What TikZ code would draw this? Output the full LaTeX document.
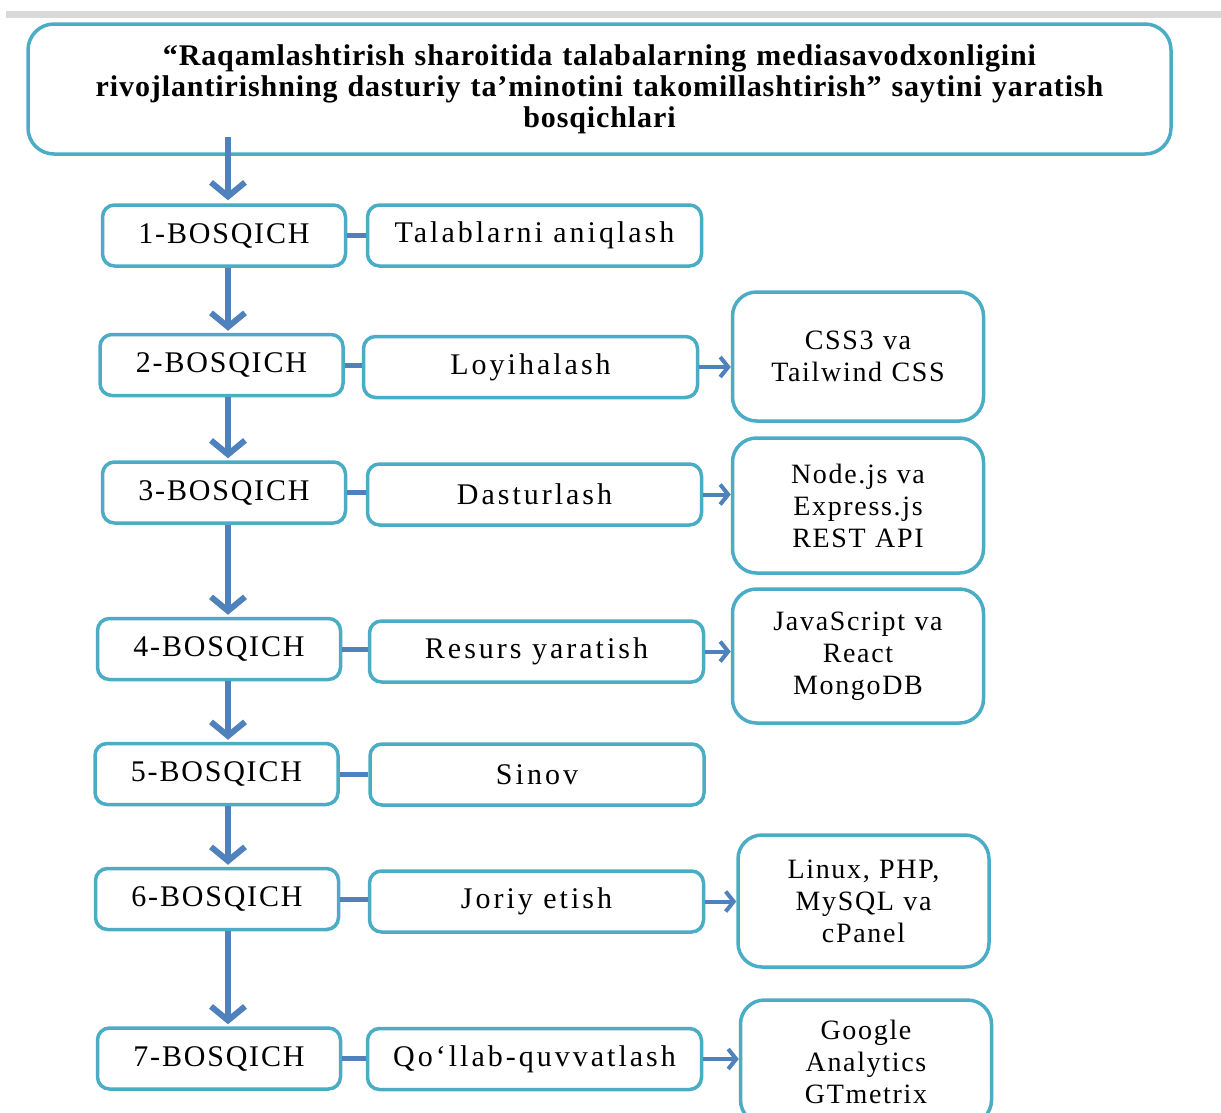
\documentclass[tikz,border=0pt]{standalone}
\usepackage{fontspec}
\setmainfont{Liberation Serif}
\usetikzlibrary{arrows.meta}
\definecolor{boxc}{RGB}{75,172,198}
\definecolor{arrc}{RGB}{79,129,189}
\newcommand{\fsz}[2]{\fontsize{#1}{#2}\selectfont}
\tikzset{
  basebox/.style={draw=boxc, line width=3.5pt, fill=white, inner sep=0pt, align=center},
  lbox/.style={basebox, rounded corners=12pt, minimum width=243pt, minimum height=61pt, font=\fsz{30}{34}\addfontfeature{LetterSpace=6}},
  mbox/.style={basebox, rounded corners=12pt, minimum width=334pt, minimum height=61pt, font=\fsz{30}{34}\addfontfeature{LetterSpace=10}},
  rbox/.style={basebox, rounded corners=24pt, minimum width=251pt, text width=240pt, font=\fsz{28}{32}\addfontfeature{LetterSpace=6}},
  tbox/.style={basebox, rounded corners=26pt, minimum width=1143pt, minimum height=130pt, text width=1130pt, font=\bfseries\fsz{30}{31}\addfontfeature{LetterSpace=3}},
  varrow/.style={draw=arrc, line width=6pt, -{Straight Barb[length=14pt,width=34pt]}},
  harrow/.style={draw=arrc, line width=4pt, -{Straight Barb[length=8pt,width=20pt]}},
  link/.style={draw=arrc, line width=5pt},
}
\begin{document}
\begin{tikzpicture}[x=1pt,y=-1pt]
\useasboundingbox (0,0) rectangle (1221,1112);
\fill[gray!30] (6,11) rectangle (1221,18);
\coordinate (ax) at (228,0);

\node[tbox] (title) at (599.5,89) {“Raqamlashtirish sharoitida talabalarning mediasavodxonligini\\ rivojlantirishning dasturiy ta’minotini takomillashtirish” saytini yaratish\\ bosqichlari};

\node[lbox] (l1) at (224,235.5) {1-BOSQICH};
\node[lbox] (l2) at (221.5,365) {2-BOSQICH};
\node[lbox] (l3) at (224,492.5) {3-BOSQICH};
\node[lbox] (l4) at (219,649) {4-BOSQICH};
\node[lbox] (l5) at (216.5,774) {5-BOSQICH};
\node[lbox] (l6) at (217,899) {6-BOSQICH};
\node[lbox] (l7) at (219,1058.5) {7-BOSQICH};

\node[mbox] (m1) at (534.5,235.5) {Talablarni aniqlash};
\node[mbox] (m2) at (530.5,367) {Loyihalash};
\node[mbox] (m3) at (534.5,494.5) {Dasturlash};
\node[mbox] (m4) at (536.5,651.5) {Resurs yaratish};
\node[mbox] (m5) at (537,774.5) {Sinov};
\node[mbox] (m6) at (536.5,901.5) {Joriy etish};
\node[mbox] (m7) at (534.5,1059) {Qo‘llab-quvvatlash};

\node[rbox, minimum height=129pt] (r2) at (858,356.5) {CSS3 va\\Tailwind CSS};
\node[rbox, minimum height=135pt] (r3) at (858,505.5) {Node.js va\\Express.js\\REST API};
\node[rbox, minimum height=134pt] (r4) at (858,656) {JavaScript va\\React\\MongoDB};
\node[rbox, minimum height=132pt] (r6) at (863.5,901) {Linux, PHP,\\MySQL va\\cPanel};
\node[rbox, minimum height=124pt] (r7) at (866,1062) {Google\\Analytics\\GTmetrix};

% vertical flow
\draw[varrow] ([yshift=19pt]title.south -| ax) -- ([yshift=3pt]l1.north -| ax);
\draw[varrow] (l1.south -| ax) -- ([yshift=2pt]l2.north -| ax);
\draw[varrow] (l2.south -| ax) -- ([yshift=2pt]l3.north -| ax);
\draw[varrow] (l3.south -| ax) -- ([yshift=2pt]l4.north -| ax);
\draw[varrow] (l4.south -| ax) -- ([yshift=2pt]l5.north -| ax);
\draw[varrow] (l5.south -| ax) -- ([yshift=2pt]l6.north -| ax);
\draw[varrow] (l6.south -| ax) -- ([yshift=2pt]l7.north -| ax);

% links
\foreach \i in {1,...,7}{
  \draw[link] (l\i.east) -- (l\i.east -| m\i.west);
}
% side arrows
\draw[harrow] (m2.east) -- (m2.east -| r2.west);
\draw[harrow] (m3.east) -- (m3.east -| r3.west);
\draw[harrow] (m4.east) -- (m4.east -| r4.west);
\draw[harrow] (m6.east) -- (m6.east -| r6.west);
\draw[harrow] (m7.east) -- (m7.east -| r7.west);
\end{tikzpicture}
\end{document}
